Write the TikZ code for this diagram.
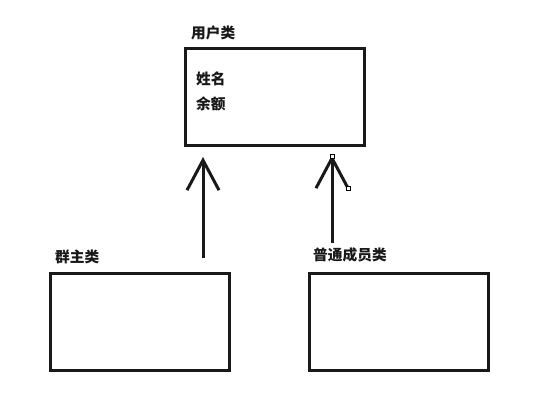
\documentclass[tikz,border=0pt]{standalone}
\usepackage{fontspec}
\newfontfamily\cjk{Noto Sans CJK SC}
\usetikzlibrary{arrows.meta}
\tikzset{
  classbox/.style={draw=black!90, line width=3pt, minimum width=179pt, minimum height=97pt, inner sep=0pt},
  lbl/.style={anchor=west, inner sep=0pt, font=\cjk\bfseries\fontsize{14.7pt}{16pt}\selectfont, text=black!90},
  inherit/.style={draw=black!90, line width=3pt, -{Straight Barb[length=30pt,width=32pt,line width=3pt]}},
  handle/.style={draw=black, line width=0.6pt, fill=white, minimum size=4pt, inner sep=0pt}
}
\begin{document}
\begin{tikzpicture}[x=1pt,y=1pt]
\useasboundingbox (0,0) rectangle (539,-410);
\fill[white] (0,0) rectangle (539,-410);
% boxes
\node[classbox] (user) at (275,-97) {};
\node[classbox] (owner) at (139.5,-322) {};
\node[classbox] (member) at (399,-322) {};
% labels
\node[lbl] (userlbl) at (191,-33) {用户类};
\node[lbl] (name) at (196,-79) {姓名};
\node[lbl] (bal) at (196,-104) {余额};
\node[lbl] (ownerlbl) at (55,-257) {群主类};
\node[lbl] (memberlbl) at (313,-255) {普通成员类};
% arrows
\coordinate (a1s) at (203,-258);
\coordinate (a1e) at (203,-157);
\coordinate (a2s) at (332,-243);
\coordinate (a2e) at (332,-155);
\draw[inherit] (a1s) -- (a1e);
\draw[inherit] (a2s) -- (a2e);
\node[handle] (h1) at (332,-156) {};
\node[handle] (h2) at (348,-188) {};
\end{tikzpicture}
\end{document}
